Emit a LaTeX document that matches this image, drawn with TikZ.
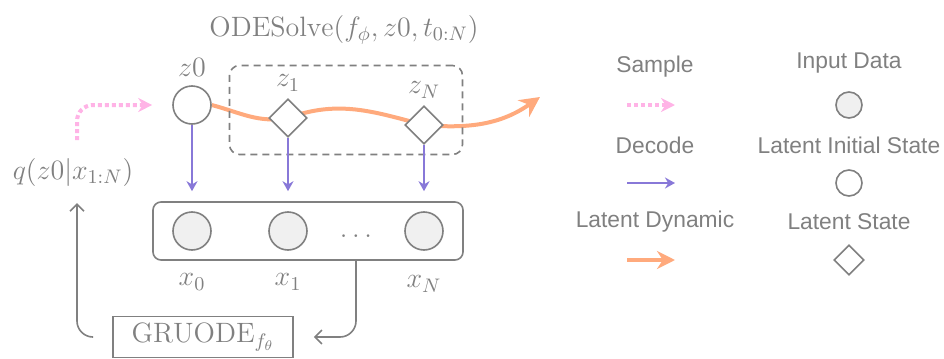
\documentclass[tikz,border=0pt]{standalone}
\usepackage{fix-cm}
\usepackage{fontspec}
\newfontfamily\leyenda{Liberation Sans}
\usetikzlibrary{arrows.meta,shapes.geometric,backgrounds}
\definecolor{rosa}{RGB}{255,179,230}
\definecolor{morado}{RGB}{136,120,216}
\definecolor{naranja}{RGB}{255,170,125}
\definecolor{gristexto}{RGB}{128,128,128}
\definecolor{relleno}{RGB}{240,240,240}
\begin{document}
\begin{tikzpicture}[x=0.5pt,y=0.5pt,font=\fontsize{14}{16}\selectfont,
	every node/.style={text=gristexto},
	estado/.style={circle,draw=gristexto,line width=0.8pt,minimum size=19pt,inner sep=0pt},
	dato/.style={estado,fill=relleno},
	latente/.style={diamond,draw=gristexto,line width=0.8pt,fill=white,minimum size=19pt,inner sep=0pt},
	muestra/.style={rosa,line width=2pt,dash pattern=on 2pt off 1.5pt,-{Stealth[length=7pt,width=7pt,sep=0pt]}},
	decodifica/.style={morado,line width=0.8pt,-{Stealth[length=5pt,width=5.5pt]}},
	dinamica/.style={naranja,line width=2pt,-{Stealth[length=10pt,width=10pt]}},
	gris/.style={gristexto,line width=0.8pt,rounded corners=8pt,-{Straight Barb[length=3.5pt,width=7pt]}},
	leyendatexto/.style={font=\leyenda\fontsize{11.4}{13}\selectfont}]
	\useasboundingbox (0,0) rectangle (944,-359);
	%Titulo
	\node (titulo) at (344,-30) {$\mathrm{ODESolve}(f_\phi,z0,t_{0:N})$};
	%Caja punteada
	\node[draw=gristexto,line width=0.8pt,dash pattern=on 3.5pt off 2.5pt,rounded corners=5pt,
		minimum width=116.5pt,minimum height=44.5pt] (ode) at (346,-110) {};
	%Estados latentes
	\node[estado,label={[label distance=1pt]above:$z0$}] (z0) at (192,-105) {};
	\node[latente,label={above:$z_1$}] (z1) at (288,-118) {};
	\node[latente,label={above:$z_N$}] (zN) at (424,-125) {};
	\coordinate (fin) at (540,-97);
	%Dinamica
	\begin{scope}[on background layer]
		\draw[dinamica] (z0.east) to[out=-15,in=190] (z1.center)
			to[out=20,in=165] (zN.center) to[out=-5,in=215] (fin);
	\end{scope}
	%Datos de entrada
	\node[draw=gristexto,line width=0.8pt,rounded corners=4pt,minimum width=155pt,
		minimum height=29pt] (caja) at (308,-231) {};
	\node[dato] (x0) at (192,-231) {};
	\node[dato] (x1) at (288,-231) {};
	\node[dato] (xN) at (424,-231) {};
	\node (puntos) at (356,-236) {$\dots$};
	\node (tx0) at (192,-282) {$x_0$};
	\node (tx1) at (288,-282) {$x_1$};
	\node (txN) at (424,-284) {$x_N$};
	%Decodificar
	\draw[decodifica,shorten >=5pt] (z0.south) -- (z0 |- caja.north);
	\draw[decodifica,shorten >=5pt] (z1.south) -- (z1 |- caja.north);
	\draw[decodifica,shorten >=5pt] (zN.south) -- (zN |- caja.north);
	%Codificador
	\node (q) at (73,-172) {$q(z0|x_{1:N})$};
	\node[draw=gristexto,line width=0.8pt,minimum width=90pt,minimum height=19.5pt] (gru) at (203,-337)
		{$\mathrm{GRUODE}_{f_\theta}$};
	\draw[gris] ([xshift=24pt]caja.south) |- ([xshift=10pt]gru.east);
	\draw[gris] ([xshift=-10pt]gru.west) -| ([xshift=2pt,yshift=-5pt]q.south);
	%Muestreo
	\coordinate (inicio) at (77,-140);
	\draw[muestra,rounded corners=8pt] (inicio) |- ([xshift=-10pt]z0.west);
	
	%Leyenda
	\node[leyendatexto] (tmuestra) at (655,-67) {Sample};
	\node[leyendatexto] (tdecod) at (655,-145) {Decode};
	\node[leyendatexto] (tdin) at (655,-222) {Latent Dynamic};
	\coordinate (m0) at (627,-105); \coordinate (m1) at (675,-105);
	\coordinate (d0) at (627,-183); \coordinate (d1) at (675,-183);
	\coordinate (n0) at (627,-260); \coordinate (n1) at (675,-260);
	\draw[muestra] (m0) -- (m1);
	\draw[decodifica] (d0) -- (d1);
	\draw[dinamica,-{Stealth[length=9pt,width=9pt]}] (n0) -- (n1);
	\node[leyendatexto] (tdato) at (849,-63) {Input Data};
	\node[leyendatexto] (tinicial) at (849,-145) {Latent Initial State};
	\node[leyendatexto] (testado) at (849,-222) {Latent State};
	\node[dato,minimum size=13pt] (ldato) at (849,-105) {};
	\node[estado,minimum size=13pt] (linicial) at (849,-183) {};
	\node[latente,minimum size=15pt] (lestado) at (849,-260) {};
\end{tikzpicture}
\end{document}
